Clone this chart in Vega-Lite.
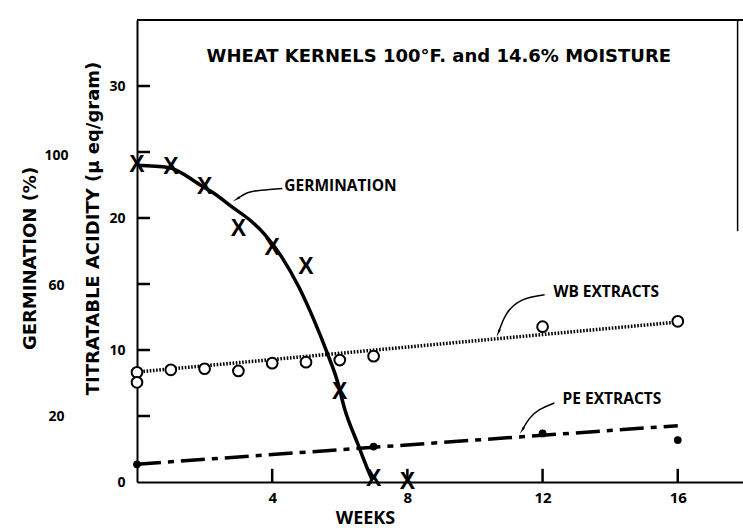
{
  "$schema": "https://vega.github.io/schema/vega-lite/v6.json",
  "width": 606,
  "height": 462,
  "autosize": {"type": "none"},
  "padding": {"left": 137, "top": 20, "right": 0, "bottom": 46},
  "background": "white",
  "config": {
    "view": {"stroke": null},
    "font": "Open Sans",
    "axis": {
      "labelFont": "Open Sans", "labelFontWeight": "bold", "labelColor": "black", "labelFontSize": 14,
      "titleFont": "DejaVu Sans", "titleFontWeight": "bold", "titleColor": "black", "titleFontSize": 18,
      "domainColor": "black", "tickColor": "black", "grid": false, "domainWidth": 2, "tickWidth": 2.5
    }
  },
  "datasets": {
    "germ_pts": [
      {"week": 0, "germination": 96.9}, {"week": 1, "germination": 96.2}, {"week": 2, "germination": 90.2},
      {"week": 3, "germination": 77.5}, {"week": 4, "germination": 71.5}, {"week": 5, "germination": 65.8},
      {"week": 6, "germination": 27.4}, {"week": 7, "germination": 1.0}, {"week": 8, "germination": 0}
    ],
    "germ_curve": [
      {"week": 0, "germination": 96.9}, {"week": 0.93, "germination": 96.2}, {"week": 1.85, "germination": 91.0},
      {"week": 2.23, "germination": 88.6}, {"week": 2.88, "germination": 83.6}, {"week": 3.33, "germination": 80.2},
      {"week": 3.77, "germination": 75.8}, {"week": 4.27, "germination": 69.0}, {"week": 4.8, "germination": 59.4},
      {"week": 5.25, "germination": 49.2}, {"week": 5.63, "germination": 39.4}, {"week": 5.93, "germination": 30.8},
      {"week": 6.14, "germination": 22.5}, {"week": 6.53, "germination": 11.7}, {"week": 6.88, "germination": 2.5},
      {"week": 6.96, "germination": 0.6}
    ],
    "wb_pts": [
      {"week": 0, "acidity": 8.31}, {"week": 0, "acidity": 7.55}, {"week": 1, "acidity": 8.5}, {"week": 2, "acidity": 8.58},
      {"week": 3, "acidity": 8.41}, {"week": 4, "acidity": 9.0}, {"week": 5, "acidity": 9.08}, {"week": 6, "acidity": 9.24},
      {"week": 7, "acidity": 9.53}, {"week": 12, "acidity": 11.77}, {"week": 16, "acidity": 12.17}
    ],
    "wb_fit": [{"week": 0, "acidity": 8.33}, {"week": 16, "acidity": 12.12}],
    "pe_pts": [
      {"week": 0, "acidity": 1.34}, {"week": 7, "acidity": 2.68}, {"week": 12, "acidity": 3.68}, {"week": 16, "acidity": 3.18}
    ],
    "pe_fit": [{"week": 0, "acidity": 1.35}, {"week": 16, "acidity": 4.27}],
    "yticks": [{"acidity": 5}, {"acidity": 10}, {"acidity": 15}, {"acidity": 20}, {"acidity": 25}, {"acidity": 30}],
    "xticks": [{"week": 4}, {"week": 8}, {"week": 12}, {"week": 16}],
    "labels": [
      {"label": "GERMINATION", "week": 4.36, "acidity": 22.39},
      {"label": "WB EXTRACTS", "week": 12.32, "acidity": 14.4},
      {"label": "PE EXTRACTS", "week": 12.59, "acidity": 6.28}
    ],
    "heading": [{"label": "WHEAT KERNELS 100°F. and 14.6% MOISTURE", "week": 8.93, "acidity": 32.2}],
    "arrows": [
      {"arrow": "germ", "week": 4.3, "acidity": 22.24}, {"arrow": "germ", "week": 3.68, "acidity": 22.11},
      {"arrow": "germ", "week": 3.27, "acidity": 21.91}, {"arrow": "germ", "week": 2.97, "acidity": 21.46},
      {"arrow": "wb", "week": 12.06, "acidity": 14.18}, {"arrow": "wb", "week": 11.38, "acidity": 13.76},
      {"arrow": "wb", "week": 10.93, "acidity": 12.72}, {"arrow": "wb", "week": 10.7, "acidity": 11.36},
      {"arrow": "pe", "week": 12.35, "acidity": 5.99}, {"arrow": "pe", "week": 11.91, "acidity": 5.48},
      {"arrow": "pe", "week": 11.61, "acidity": 4.8}, {"arrow": "pe", "week": 11.41, "acidity": 3.98}
    ],
    "tips": [
      {"arrow": "germ", "week": 2.97, "acidity": 21.46},
      {"arrow": "wb", "week": 10.7, "acidity": 11.36},
      {"arrow": "pe", "week": 11.41, "acidity": 3.98}
    ],
    "frame": [{"week": 0, "acidity": 35}]
  },
  "layer": [
    {
      "layer": [
        {
          "data": {"name": "wb_fit"},
          "mark": {"type": "line", "color": "black", "strokeWidth": 3.5, "strokeDash": [1.6, 1.6]},
          "encoding": {
            "x": {
              "field": "week", "type": "quantitative",
              "scale": {"domain": [0, 17.93], "nice": false, "zero": false},
              "axis": {
                "orient": "bottom", "values": [4, 8, 12, 16], "ticks": false, "tickSize": 0,
                "labelPadding": 8, "labelBaseline": "top", "labelFontSize": 15,
                "title": "WEEKS", "titleFont": "Open Sans", "titleFontSize": 18,
                "titleX": 228, "titleY": 36, "titleBaseline": "middle", "titleAlign": "center"
              }
            },
            "y": {
              "field": "acidity", "type": "quantitative",
              "scale": {"domain": [0, 35], "nice": false, "zero": false},
              "axis": {
                "orient": "left", "values": [0, 10, 20, 30], "ticks": false, "tickSize": 0,
                "labelPadding": 12, "labelAlign": "right", "labelBaseline": "middle",
                "title": "TITRATABLE ACIDITY  (µ eq/gram)", "titleY": 208, "titlePadding": 6
              }
            }
          }
        },
        {"data": {"name": "frame"}, "mark": {"type": "rule", "color": "black", "strokeWidth": 2}, "encoding": {"x": {"field": "week", "type": "quantitative"}, "x2": {"datum": 17.93}, "y": {"field": "acidity", "type": "quantitative"}}},
        {"data": {"name": "frame"}, "mark": {"type": "rule", "color": "black", "strokeWidth": 1.5}, "encoding": {"x": {"datum": 17.77}, "y": {"field": "acidity", "type": "quantitative"}, "y2": {"datum": 19}}},
        {"data": {"name": "yticks"}, "mark": {"type": "rule", "color": "black", "strokeWidth": 2.5}, "encoding": {"x": {"datum": 0}, "x2": {"datum": 0.385}, "y": {"field": "acidity", "type": "quantitative"}}},
        {"data": {"name": "xticks"}, "mark": {"type": "rule", "color": "black", "strokeWidth": 2.5}, "encoding": {"x": {"field": "week", "type": "quantitative"}, "y": {"datum": 0}, "y2": {"datum": 1.0}}},
        {"data": {"name": "pe_fit"}, "mark": {"type": "line", "color": "black", "strokeWidth": 3.5, "strokeDash": [24, 7, 6, 7]}, "encoding": {"x": {"field": "week", "type": "quantitative"}, "y": {"field": "acidity", "type": "quantitative"}}},
        {"data": {"name": "wb_pts"}, "mark": {"type": "point", "filled": true, "fill": "white", "stroke": "black", "strokeWidth": 2, "size": 115, "opacity": 1}, "encoding": {"x": {"field": "week", "type": "quantitative"}, "y": {"field": "acidity", "type": "quantitative"}}},
        {"data": {"name": "pe_pts"}, "mark": {"type": "point", "filled": true, "color": "black", "size": 60, "opacity": 1}, "encoding": {"x": {"field": "week", "type": "quantitative"}, "y": {"field": "acidity", "type": "quantitative"}}},
        {"data": {"name": "arrows"}, "mark": {"type": "line", "color": "black", "strokeWidth": 1.5, "interpolate": "natural"}, "encoding": {"x": {"field": "week", "type": "quantitative"}, "y": {"field": "acidity", "type": "quantitative"}, "detail": {"field": "arrow"}}},
        {"data": {"name": "tips"}, "transform": [{"filter": "datum.arrow === 'germ'"}], "mark": {"type": "point", "shape": "wedge", "filled": true, "color": "black", "size": 90, "angle": 239, "opacity": 1}, "encoding": {"x": {"field": "week", "type": "quantitative"}, "y": {"field": "acidity", "type": "quantitative"}}},
        {"data": {"name": "tips"}, "transform": [{"filter": "datum.arrow === 'wb'"}], "mark": {"type": "point", "shape": "wedge", "filled": true, "color": "black", "size": 90, "angle": 204, "opacity": 1}, "encoding": {"x": {"field": "week", "type": "quantitative"}, "y": {"field": "acidity", "type": "quantitative"}}},
        {"data": {"name": "tips"}, "transform": [{"filter": "datum.arrow === 'pe'"}], "mark": {"type": "point", "shape": "wedge", "filled": true, "color": "black", "size": 90, "angle": 212, "opacity": 1}, "encoding": {"x": {"field": "week", "type": "quantitative"}, "y": {"field": "acidity", "type": "quantitative"}}},
        {"data": {"name": "labels"}, "mark": {"type": "text", "align": "left", "baseline": "middle", "font": "Open Sans", "fontWeight": "bold", "fontSize": 15.5, "color": "black"}, "encoding": {"x": {"field": "week", "type": "quantitative"}, "y": {"field": "acidity", "type": "quantitative"}, "text": {"field": "label"}}},
        {"data": {"name": "heading"}, "mark": {"type": "text", "align": "center", "baseline": "middle", "font": "DejaVu Sans", "fontWeight": "bold", "fontSize": 18, "color": "black"}, "encoding": {"x": {"field": "week", "type": "quantitative"}, "y": {"field": "acidity", "type": "quantitative"}, "text": {"field": "label"}}}
      ]
    },
    {
      "encoding": {
        "x": {"field": "week", "type": "quantitative"},
        "y": {
          "field": "germination", "type": "quantitative",
          "scale": {"domain": [0, 141.3], "nice": false, "zero": false},
          "axis": {
            "orient": "left", "values": [20, 60, 100], "offset": 76, "domain": false, "ticks": false, "tickSize": 0,
            "labelPadding": 5, "labelAlign": "center",
            "title": "GERMINATION  (%)", "titleY": 238, "titlePadding": 4
          }
        }
      },
      "layer": [
        {"data": {"name": "germ_curve"}, "mark": {"type": "line", "color": "black", "strokeWidth": 3.5, "interpolate": "monotone"}},
        {"data": {"name": "germ_pts"}, "mark": {"type": "text", "text": "X", "font": "Liberation Sans", "fontWeight": "bold", "fontSize": 23, "baseline": "middle", "align": "center", "color": "black"}}
      ]
    }
  ],
  "resolve": {"scale": {"y": "independent"}}
}
